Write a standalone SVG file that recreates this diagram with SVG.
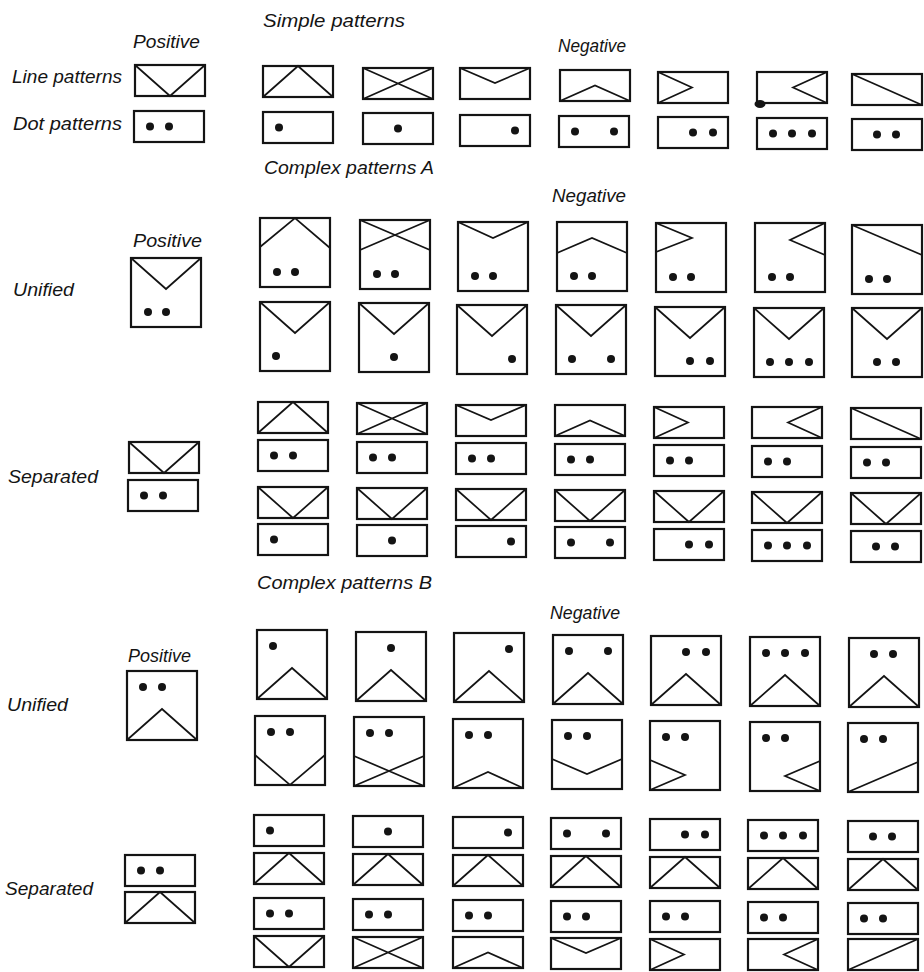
<svg xmlns="http://www.w3.org/2000/svg" xmlns:xlink="http://www.w3.org/1999/xlink" width="924" height="972" viewBox="0 0 924 972">
<style>
.bx{fill:none;stroke:#141414;stroke-width:2.2}
.ln{fill:none;stroke:#141414;stroke-width:1.7}
.dt{fill:#141414}
.t{font-family:"Liberation Sans",Arial,sans-serif;font-style:italic;font-size:18px;fill:#141414}
</style>
<defs>
<rect id="rF" class="bx" width="70" height="31"/>
<rect id="rT" class="bx" width="70" height="69"/>
<path id="fV" class="ln" d="M0,0L35,31L70,0"/>
<path id="fA" class="ln" d="M0,31L35,0L70,31"/>
<path id="fX" class="ln" d="M0,0L70,31M70,0L0,31"/>
<path id="fSV" class="ln" d="M0,0L35,15L70,0"/>
<path id="fSA" class="ln" d="M0,31L35,15.5L70,31"/>
<path id="fGT" class="ln" d="M0,0L34,15.5L0,31"/>
<path id="fLT" class="ln" d="M70,0L36,15.5L70,31"/>
<path id="fD1" class="ln" d="M0,0L70,31"/>
<path id="fD2" class="ln" d="M0,31L70,0"/>
<g id="fdLC" class="dt"><circle cx="16" cy="15.5" r="4"/><circle cx="35" cy="15.5" r="4"/></g>
<g id="fdL" class="dt"><circle cx="16" cy="15.5" r="4"/></g>
<g id="fdC" class="dt"><circle cx="35" cy="15.5" r="4"/></g>
<g id="fdR" class="dt"><circle cx="55" cy="15.5" r="4"/></g>
<g id="fdLR" class="dt"><circle cx="16" cy="15.5" r="4"/><circle cx="55" cy="15.5" r="4"/></g>
<g id="fdCR" class="dt"><circle cx="35" cy="15.5" r="4"/><circle cx="55" cy="15.5" r="4"/></g>
<g id="fdLCR" class="dt"><circle cx="16" cy="15.5" r="4"/><circle cx="35" cy="15.5" r="4"/><circle cx="55" cy="15.5" r="4"/></g>
<g id="fdP7" class="dt"><circle cx="25" cy="15.5" r="4"/><circle cx="44" cy="15.5" r="4"/></g>
<path id="tV" class="ln" d="M0,0L35,31L70,0"/>
<path id="tA" class="ln" d="M0,29L35,0L70,30"/>
<path id="tX" class="ln" d="M0,0L70,30M70,0L0,30"/>
<path id="tSV" class="ln" d="M0,0L35,16L70,0"/>
<path id="tSA" class="ln" d="M0,31L35,16L70,31"/>
<path id="tGT" class="ln" d="M0,0L36,15L0,29"/>
<path id="tLT" class="ln" d="M70,0L35,17L70,32"/>
<path id="tD" class="ln" d="M0,0L70,30"/>
<g id="tdLC" class="dt"><circle cx="17" cy="54" r="4"/><circle cx="35" cy="54" r="4"/></g>
<g id="tdL" class="dt"><circle cx="16" cy="54" r="4"/></g>
<g id="tdC" class="dt"><circle cx="35" cy="54" r="4"/></g>
<g id="tdR" class="dt"><circle cx="55" cy="54" r="4"/></g>
<g id="tdLR" class="dt"><circle cx="16" cy="54" r="4"/><circle cx="55" cy="54" r="4"/></g>
<g id="tdCR" class="dt"><circle cx="35" cy="54" r="4"/><circle cx="55" cy="54" r="4"/></g>
<g id="tdLCR" class="dt"><circle cx="16" cy="54" r="4"/><circle cx="35" cy="54" r="4"/><circle cx="55" cy="54" r="4"/></g>
<g id="tdP7" class="dt"><circle cx="25" cy="54" r="4"/><circle cx="44" cy="54" r="4"/></g>
<path id="bA" class="ln" d="M0,69L35,38L70,69"/>
<path id="bV" class="ln" d="M0,39L35,69L70,39"/>
<path id="bX" class="ln" d="M0,39L70,69M70,39L0,69"/>
<path id="bSA" class="ln" d="M0,69L35,53L70,69"/>
<path id="bSV" class="ln" d="M0,39L35,54L70,39"/>
<path id="bGT" class="ln" d="M0,39L35,54L0,69"/>
<path id="bLT" class="ln" d="M70,39L35,54L70,69"/>
<path id="bD" class="ln" d="M0,69L70,39"/>
<g id="bdLC" class="dt"><circle cx="16" cy="16" r="4"/><circle cx="35" cy="16" r="4"/></g>
<g id="bdL" class="dt"><circle cx="16" cy="16" r="4"/></g>
<g id="bdC" class="dt"><circle cx="35" cy="16" r="4"/></g>
<g id="bdR" class="dt"><circle cx="55" cy="16" r="4"/></g>
<g id="bdLR" class="dt"><circle cx="16" cy="16" r="4"/><circle cx="55" cy="16" r="4"/></g>
<g id="bdCR" class="dt"><circle cx="35" cy="16" r="4"/><circle cx="55" cy="16" r="4"/></g>
<g id="bdLCR" class="dt"><circle cx="16" cy="16" r="4"/><circle cx="35" cy="16" r="4"/><circle cx="55" cy="16" r="4"/></g>
<g id="bdP7" class="dt"><circle cx="25" cy="16" r="4"/><circle cx="44" cy="16" r="4"/></g>
</defs>
<rect width="924" height="972" fill="#ffffff"/>

<g id="labels">
<text class="t" x="263" y="27" textLength="142" lengthAdjust="spacingAndGlyphs">Simple patterns</text>
<text class="t" x="133" y="48" textLength="67" lengthAdjust="spacingAndGlyphs">Positive</text>
<text class="t" x="558" y="52" textLength="68" lengthAdjust="spacingAndGlyphs">Negative</text>
<text class="t" x="12" y="83" textLength="110" lengthAdjust="spacingAndGlyphs">Line patterns</text>
<text class="t" x="13" y="130" textLength="109" lengthAdjust="spacingAndGlyphs">Dot patterns</text>
<text class="t" x="264" y="174" textLength="170" lengthAdjust="spacingAndGlyphs">Complex patterns A</text>
<text class="t" x="552" y="202" textLength="74" lengthAdjust="spacingAndGlyphs">Negative</text>
<text class="t" x="133" y="247" textLength="69" lengthAdjust="spacingAndGlyphs">Positive</text>
<text class="t" x="13" y="296" textLength="61" lengthAdjust="spacingAndGlyphs">Unified</text>
<text class="t" x="8" y="483" textLength="90" lengthAdjust="spacingAndGlyphs">Separated</text>
<text class="t" x="257" y="589" textLength="175" lengthAdjust="spacingAndGlyphs">Complex patterns B</text>
<text class="t" x="550" y="619" textLength="70" lengthAdjust="spacingAndGlyphs">Negative</text>
<text class="t" x="128" y="662" textLength="63" lengthAdjust="spacingAndGlyphs">Positive</text>
<text class="t" x="7" y="711" textLength="61" lengthAdjust="spacingAndGlyphs">Unified</text>
<text class="t" x="5" y="895" textLength="88" lengthAdjust="spacingAndGlyphs">Separated</text>
</g>

<g id="s-line-pos" transform="translate(135,65)"><use href="#rF"/><use href="#fV"/></g>
<g id="s-line-n1" transform="translate(263,66)"><use href="#rF"/><use href="#fA"/></g>
<g id="s-line-n2" transform="translate(363,68)"><use href="#rF"/><use href="#fX"/></g>
<g id="s-line-n3" transform="translate(460,68)"><use href="#rF"/><use href="#fSV"/></g>
<g id="s-line-n4" transform="translate(560,70)"><use href="#rF"/><use href="#fSA"/></g>
<g id="s-line-n5" transform="translate(658,72)"><use href="#rF"/><use href="#fGT"/></g>
<g id="s-line-n6" transform="translate(757,72)"><use href="#rF"/><use href="#fLT"/><ellipse class="dt" cx="3" cy="32" rx="5.5" ry="4"/></g>
<g id="s-line-n7" transform="translate(852,74)"><use href="#rF"/><use href="#fD1"/></g>

<g id="s-dot-pos" transform="translate(134,111)"><use href="#rF"/><use href="#fdLC"/></g>
<g id="s-dot-n1" transform="translate(263,112)"><use href="#rF"/><use href="#fdL"/></g>
<g id="s-dot-n2" transform="translate(363,113)"><use href="#rF"/><use href="#fdC"/></g>
<g id="s-dot-n3" transform="translate(460,115)"><use href="#rF"/><use href="#fdR"/></g>
<g id="s-dot-n4" transform="translate(559,116)"><use href="#rF"/><use href="#fdLR"/></g>
<g id="s-dot-n5" transform="translate(658,117)"><use href="#rF"/><use href="#fdCR"/></g>
<g id="s-dot-n6" transform="translate(757,118)"><use href="#rF"/><use href="#fdLCR"/></g>
<g id="s-dot-n7" transform="translate(852,119)"><use href="#rF"/><use href="#fdP7"/></g>

<g id="au-pos" transform="translate(131,258)"><use href="#rT"/><use href="#tV"/><use href="#tdLC"/></g>
<g id="au-r1-n1" transform="translate(260,218)"><use href="#rT"/><use href="#tA"/><use href="#tdLC"/></g>
<g id="au-r1-n2" transform="translate(360,220)"><use href="#rT"/><use href="#tX"/><use href="#tdLC"/></g>
<g id="au-r1-n3" transform="translate(458,222)"><use href="#rT"/><use href="#tSV"/><use href="#tdLC"/></g>
<g id="au-r1-n4" transform="translate(557,222)"><use href="#rT"/><use href="#tSA"/><use href="#tdLC"/></g>
<g id="au-r1-n5" transform="translate(656,223)"><use href="#rT"/><use href="#tGT"/><use href="#tdLC"/></g>
<g id="au-r1-n6" transform="translate(755,223)"><use href="#rT"/><use href="#tLT"/><use href="#tdLC"/></g>
<g id="au-r1-n7" transform="translate(852,225)"><use href="#rT"/><use href="#tD"/><use href="#tdLC"/></g>

<g id="au-r2-n1" transform="translate(260,302)"><use href="#rT"/><use href="#tV"/><use href="#tdL"/></g>
<g id="au-r2-n2" transform="translate(359,303)"><use href="#rT"/><use href="#tV"/><use href="#tdC"/></g>
<g id="au-r2-n3" transform="translate(457,305)"><use href="#rT"/><use href="#tV"/><use href="#tdR"/></g>
<g id="au-r2-n4" transform="translate(556,305)"><use href="#rT"/><use href="#tV"/><use href="#tdLR"/></g>
<g id="au-r2-n5" transform="translate(655,307)"><use href="#rT"/><use href="#tV"/><use href="#tdCR"/></g>
<g id="au-r2-n6" transform="translate(754,308)"><use href="#rT"/><use href="#tV"/><use href="#tdLCR"/></g>
<g id="au-r2-n7" transform="translate(852,308)"><use href="#rT"/><use href="#tV"/><use href="#tdP7"/></g>

<g id="as-pos-line" transform="translate(129,442)"><use href="#rF"/><use href="#fV"/></g>
<g id="as-pos-dot" transform="translate(128,480)"><use href="#rF"/><use href="#fdLC"/></g>

<g id="as-l1-n1" transform="translate(258,402)"><use href="#rF"/><use href="#fA"/></g>
<g id="as-l1-n2" transform="translate(357,403)"><use href="#rF"/><use href="#fX"/></g>
<g id="as-l1-n3" transform="translate(456,405)"><use href="#rF"/><use href="#fSV"/></g>
<g id="as-l1-n4" transform="translate(555,405)"><use href="#rF"/><use href="#fSA"/></g>
<g id="as-l1-n5" transform="translate(654,407)"><use href="#rF"/><use href="#fGT"/></g>
<g id="as-l1-n6" transform="translate(752,407)"><use href="#rF"/><use href="#fLT"/></g>
<g id="as-l1-n7" transform="translate(851,408)"><use href="#rF"/><use href="#fD1"/></g>

<g id="as-d1-n1" transform="translate(258,440)"><use href="#rF"/><use href="#fdLC"/></g>
<g id="as-d1-n2" transform="translate(357,442)"><use href="#rF"/><use href="#fdLC"/></g>
<g id="as-d1-n3" transform="translate(456,443)"><use href="#rF"/><use href="#fdLC"/></g>
<g id="as-d1-n4" transform="translate(555,444)"><use href="#rF"/><use href="#fdLC"/></g>
<g id="as-d1-n5" transform="translate(654,445)"><use href="#rF"/><use href="#fdLC"/></g>
<g id="as-d1-n6" transform="translate(752,446)"><use href="#rF"/><use href="#fdLC"/></g>
<g id="as-d1-n7" transform="translate(851,447)"><use href="#rF"/><use href="#fdLC"/></g>

<g id="as-l2-n1" transform="translate(258,487)"><use href="#rF"/><use href="#fV"/></g>
<g id="as-l2-n2" transform="translate(357,488)"><use href="#rF"/><use href="#fV"/></g>
<g id="as-l2-n3" transform="translate(456,489)"><use href="#rF"/><use href="#fV"/></g>
<g id="as-l2-n4" transform="translate(555,490)"><use href="#rF"/><use href="#fV"/></g>
<g id="as-l2-n5" transform="translate(654,491)"><use href="#rF"/><use href="#fV"/></g>
<g id="as-l2-n6" transform="translate(752,492)"><use href="#rF"/><use href="#fV"/></g>
<g id="as-l2-n7" transform="translate(851,493)"><use href="#rF"/><use href="#fV"/></g>

<g id="as-d2-n1" transform="translate(258,524)"><use href="#rF"/><use href="#fdL"/></g>
<g id="as-d2-n2" transform="translate(357,525)"><use href="#rF"/><use href="#fdC"/></g>
<g id="as-d2-n3" transform="translate(456,526)"><use href="#rF"/><use href="#fdR"/></g>
<g id="as-d2-n4" transform="translate(555,527)"><use href="#rF"/><use href="#fdLR"/></g>
<g id="as-d2-n5" transform="translate(654,529)"><use href="#rF"/><use href="#fdCR"/></g>
<g id="as-d2-n6" transform="translate(752,530)"><use href="#rF"/><use href="#fdLCR"/></g>
<g id="as-d2-n7" transform="translate(851,531)"><use href="#rF"/><use href="#fdP7"/></g>

<g id="bu-pos" transform="translate(127,671)"><use href="#rT"/><use href="#bA"/><use href="#bdLC"/></g>
<g id="bu-r1-n1" transform="translate(257,630)"><use href="#rT"/><use href="#bA"/><use href="#bdL"/></g>
<g id="bu-r1-n2" transform="translate(356,632)"><use href="#rT"/><use href="#bA"/><use href="#bdC"/></g>
<g id="bu-r1-n3" transform="translate(454,633)"><use href="#rT"/><use href="#bA"/><use href="#bdR"/></g>
<g id="bu-r1-n4" transform="translate(553,635)"><use href="#rT"/><use href="#bA"/><use href="#bdLR"/></g>
<g id="bu-r1-n5" transform="translate(651,636)"><use href="#rT"/><use href="#bA"/><use href="#bdCR"/></g>
<g id="bu-r1-n6" transform="translate(750,637)"><use href="#rT"/><use href="#bA"/><use href="#bdLCR"/></g>
<g id="bu-r1-n7" transform="translate(849,638)"><use href="#rT"/><use href="#bA"/><use href="#bdP7"/></g>

<g id="bu-r2-n1" transform="translate(255,716)"><use href="#rT"/><use href="#bV"/><use href="#bdLC"/></g>
<g id="bu-r2-n2" transform="translate(354,717)"><use href="#rT"/><use href="#bX"/><use href="#bdLC"/></g>
<g id="bu-r2-n3" transform="translate(453,719)"><use href="#rT"/><use href="#bSA"/><use href="#bdLC"/></g>
<g id="bu-r2-n4" transform="translate(552,720)"><use href="#rT"/><use href="#bSV"/><use href="#bdLC"/></g>
<g id="bu-r2-n5" transform="translate(650,721)"><use href="#rT"/><use href="#bGT"/><use href="#bdLC"/></g>
<g id="bu-r2-n6" transform="translate(750,722)"><use href="#rT"/><use href="#bLT"/><use href="#bdLC"/></g>
<g id="bu-r2-n7" transform="translate(848,723)"><use href="#rT"/><use href="#bD"/><use href="#bdLC"/></g>

<g id="bs-pos-dot" transform="translate(125,855)"><use href="#rF"/><use href="#fdLC"/></g>
<g id="bs-pos-line" transform="translate(125,892)"><use href="#rF"/><use href="#fA"/></g>

<g id="bs-d1-n1" transform="translate(254,815)"><use href="#rF"/><use href="#fdL"/></g>
<g id="bs-d1-n2" transform="translate(353,816)"><use href="#rF"/><use href="#fdC"/></g>
<g id="bs-d1-n3" transform="translate(453,817)"><use href="#rF"/><use href="#fdR"/></g>
<g id="bs-d1-n4" transform="translate(551,818)"><use href="#rF"/><use href="#fdLR"/></g>
<g id="bs-d1-n5" transform="translate(650,819)"><use href="#rF"/><use href="#fdCR"/></g>
<g id="bs-d1-n6" transform="translate(748,820)"><use href="#rF"/><use href="#fdLCR"/></g>
<g id="bs-d1-n7" transform="translate(848,821)"><use href="#rF"/><use href="#fdP7"/></g>

<g id="bs-l2-n1" transform="translate(254,853)"><use href="#rF"/><use href="#fA"/></g>
<g id="bs-l2-n2" transform="translate(353,854)"><use href="#rF"/><use href="#fA"/></g>
<g id="bs-l2-n3" transform="translate(453,855)"><use href="#rF"/><use href="#fA"/></g>
<g id="bs-l2-n4" transform="translate(551,856)"><use href="#rF"/><use href="#fA"/></g>
<g id="bs-l2-n5" transform="translate(650,857)"><use href="#rF"/><use href="#fA"/></g>
<g id="bs-l2-n6" transform="translate(748,858)"><use href="#rF"/><use href="#fA"/></g>
<g id="bs-l2-n7" transform="translate(848,859)"><use href="#rF"/><use href="#fA"/></g>

<g id="bs-d3-n1" transform="translate(254,898)"><use href="#rF"/><use href="#fdLC"/></g>
<g id="bs-d3-n2" transform="translate(353,899)"><use href="#rF"/><use href="#fdLC"/></g>
<g id="bs-d3-n3" transform="translate(453,900)"><use href="#rF"/><use href="#fdLC"/></g>
<g id="bs-d3-n4" transform="translate(551,901)"><use href="#rF"/><use href="#fdLC"/></g>
<g id="bs-d3-n5" transform="translate(650,901)"><use href="#rF"/><use href="#fdLC"/></g>
<g id="bs-d3-n6" transform="translate(748,902)"><use href="#rF"/><use href="#fdLC"/></g>
<g id="bs-d3-n7" transform="translate(848,903)"><use href="#rF"/><use href="#fdLC"/></g>

<g id="bs-l4-n1" transform="translate(254,936)"><use href="#rF"/><use href="#fV"/></g>
<g id="bs-l4-n2" transform="translate(353,937)"><use href="#rF"/><use href="#fX"/></g>
<g id="bs-l4-n3" transform="translate(453,937)"><use href="#rF"/><use href="#fSA"/></g>
<g id="bs-l4-n4" transform="translate(551,938)"><use href="#rF"/><use href="#fSV"/></g>
<g id="bs-l4-n5" transform="translate(650,939)"><use href="#rF"/><use href="#fGT"/></g>
<g id="bs-l4-n6" transform="translate(748,939)"><use href="#rF"/><use href="#fLT"/></g>
<g id="bs-l4-n7" transform="translate(848,939)"><use href="#rF"/><use href="#fD2"/></g>
</svg>
